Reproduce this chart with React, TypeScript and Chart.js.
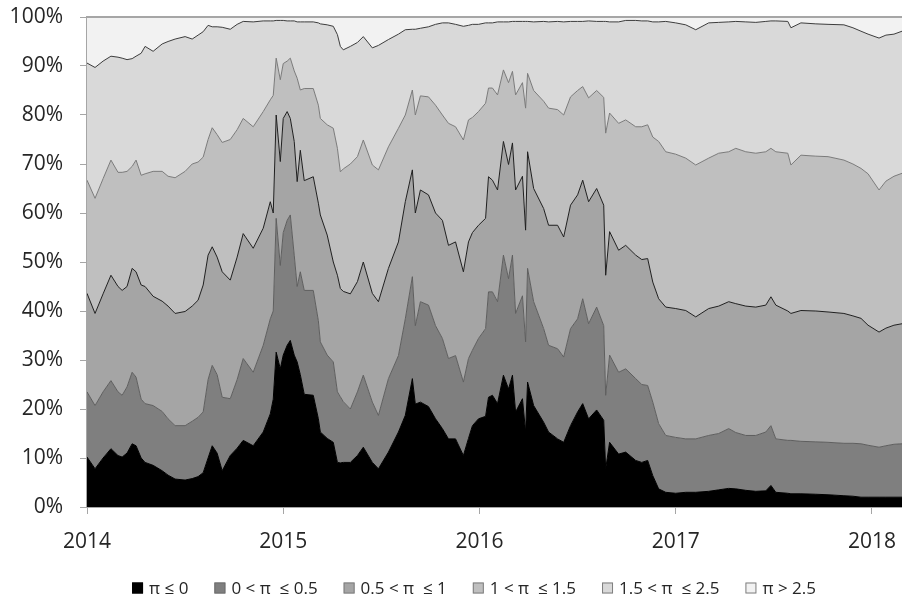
import { useEffect, useRef } from 'react';
import { Chart, registerables } from 'chart.js';

Chart.register(...registerables);

// decimal years
const dates = [
  2014.000, 2014.041, 2014.082, 2014.122, 2014.158, 2014.179, 2014.204, 2014.230, 2014.250, 2014.276,
  2014.296, 2014.337, 2014.383, 2014.413, 2014.449, 2014.500, 2014.536, 2014.566, 2014.592, 2014.617,
  2014.638, 2014.663, 2014.689, 2014.730, 2014.765, 2014.796, 2014.847, 2014.898, 2014.934, 2014.949,
  2014.964, 2014.985, 2015.000, 2015.020, 2015.036, 2015.056, 2015.071, 2015.087, 2015.107, 2015.153,
  2015.179, 2015.189, 2015.224, 2015.255, 2015.276, 2015.291, 2015.306, 2015.342, 2015.378, 2015.408,
  2015.454, 2015.485, 2015.536, 2015.587, 2015.622, 2015.658, 2015.673, 2015.699, 2015.740, 2015.776,
  2015.811, 2015.842, 2015.878, 2015.918, 2015.944, 2015.964, 2015.995, 2016.031, 2016.046, 2016.066,
  2016.092, 2016.122, 2016.148, 2016.168, 2016.184, 2016.219, 2016.235, 2016.245, 2016.276, 2016.327,
  2016.352, 2016.398, 2016.429, 2016.464, 2016.500, 2016.526, 2016.556, 2016.597, 2016.633, 2016.643,
  2016.663, 2016.709, 2016.745, 2016.796, 2016.827, 2016.857, 2016.883, 2016.913, 2016.949, 2017.000,
  2017.051, 2017.102, 2017.168, 2017.219, 2017.270, 2017.306, 2017.357, 2017.408, 2017.459, 2017.485,
  2017.510, 2017.571, 2017.587, 2017.638, 2017.714, 2017.776, 2017.857, 2017.903, 2017.944, 2017.980,
  2018.036, 2018.071, 2018.112, 2018.153,
];

const seriesLabels = ['π ≤ 0', '0 < π  ≤ 0.5', '0.5 < π  ≤ 1', '1 < π  ≤ 1.5', '1.5 < π  ≤ 2.5', 'π > 2.5'];

const shareLe0 = [
  10.2, 7.8, 10, 11.9, 10.5, 10.2, 11, 12.9, 12.5, 10,
  9.1, 8.5, 7.4, 6.5, 5.7, 5.5, 5.8, 6.2, 7, 10,
  12.5, 11, 7.4, 10.5, 12, 13.6, 12.5, 15.3, 19, 22,
  31.6, 28.2, 31, 33, 34, 31, 29.6, 27, 23, 22.8,
  18, 15.3, 14, 13.2, 9.1, 9, 9.1, 9.1, 10.5, 12.2,
  9.1, 7.8, 11.2, 15.3, 18.7, 26.2, 21, 21.4, 20.5, 18,
  16, 13.9, 13.9, 10.5, 14, 16.6, 18, 18.5, 22.4, 22.8,
  21.1, 26.9, 24.1, 26.9, 19.4, 22.1, 15.3, 25.5, 20.7, 17.3,
  15.3, 13.9, 13.2, 16.6, 19.4, 21.1, 18, 19.8, 17.7, 7.8,
  13.2, 10.8, 11.2, 9.5, 9.1, 9.5, 6.4, 3.7, 3, 2.8,
  3, 3, 3.2, 3.5, 3.8, 3.7, 3.4, 3.2, 3.3, 4.4,
  3, 2.8, 2.7, 2.7, 2.6, 2.5, 2.3, 2.2, 2, 2,
  2, 2, 2, 2,
];

const share0to05 = [
  13.3, 12.9, 13.5, 13.9, 13, 12.6, 13.5, 14.6, 14, 12,
  12, 12.2, 12.1, 11.5, 10.9, 11.1, 11.7, 12.1, 12.4, 16,
  16.4, 16, 15, 11.6, 14, 16.7, 15, 17.7, 19.4, 18,
  27.3, 21.1, 25, 25.5, 25.6, 20.4, 15.4, 21, 21.2, 21.4,
  20, 18.4, 17, 16.4, 14.4, 13.5, 12.4, 10.9, 13, 14.7,
  12.3, 10.9, 15, 15.6, 19.7, 20.8, 16, 20.5, 20.7, 19,
  18.4, 16.4, 17, 15, 16.3, 15.4, 16.4, 17.9, 21.5, 21.1,
  20.8, 24.5, 22.5, 24.5, 20.1, 21, 18.4, 23.2, 21.2, 19.1,
  17.7, 18.4, 17.4, 19.8, 19, 21.4, 19.4, 21, 19.3, 15,
  17.8, 16.7, 17, 16.7, 15.9, 15.3, 15, 13.3, 11.6, 11.4,
  10.9, 10.9, 11.4, 11.5, 12.2, 11.5, 11.2, 11.4, 12, 12.2,
  10.9, 10.8, 10.9, 10.7, 10.7, 10.7, 10.7, 10.8, 10.9, 10.6,
  10.2, 10.5, 10.8, 10.9,
];

const share05to1 = [
  20.1, 18.8, 20, 21.5, 21.5, 21.4, 20.5, 21.2, 21.5, 23.3,
  23.9, 22.3, 22.5, 23, 22.9, 23.3, 23.5, 23.9, 25.9, 25.4,
  24.2, 24, 25.6, 24.2, 25, 25.5, 25.3, 23.9, 23.9, 20,
  21.1, 21.2, 23.3, 22.2, 19.7, 23.2, 21.4, 24.8, 22.4, 23.2,
  24, 25.9, 24.5, 20.4, 23.8, 22.1, 22.5, 23.5, 22.5, 23.1,
  22.2, 23.2, 22.5, 23.2, 23.9, 21.8, 23, 22.8, 22.5, 23,
  24.1, 23.1, 23.2, 22.5, 23.8, 24, 23.1, 22.5, 23.5, 22.8,
  22.8, 23.2, 23.3, 22.9, 25.2, 24.4, 22.8, 23.8, 23.1, 24.5,
  24.5, 25.2, 24.5, 25.2, 25.3, 24.2, 24.9, 24.2, 24.6, 24.5,
  25.2, 24.9, 25.2, 25.2, 25.5, 25.9, 24.5, 25.5, 26.2, 26.3,
  26.2, 24.9, 25.9, 26, 25.9, 26.3, 26.4, 26.2, 25.9, 26.3,
  27.3, 26.4, 25.9, 26.7, 26.7, 26.6, 26.5, 26, 25.6, 24.5,
  23.5, 24, 24.3, 24.5,
];

const share1to15 = [
  23.1, 23.5, 23.5, 23.5, 23.3, 24.1, 23.5, 20.8, 22.8, 22.4,
  23, 25.5, 26.5, 26.5, 27.7, 28.6, 29, 28.2, 26.1, 23.6,
  24.3, 25, 26.4, 28.7, 26, 23.5, 24.8, 23.8, 20.8, 24,
  11.6, 16.7, 11.2, 10.3, 12.3, 14.4, 21.1, 12.3, 18.8, 18,
  20, 19.7, 22.5, 27.3, 25.9, 23.8, 25, 26.5, 25.5, 24.9,
  26.2, 26.9, 24.8, 23.2, 17.7, 16.3, 20, 19.2, 20, 22,
  21.5, 24.9, 23.5, 26.9, 24.9, 23.5, 23.2, 23.5, 18.1, 18.8,
  19.4, 14.6, 16.7, 14.6, 19.4, 19.1, 24.9, 16, 20, 21.9,
  23.9, 23.6, 24.9, 22.1, 21.3, 19.1, 21.2, 20, 22, 29,
  24.2, 25.9, 25.6, 26.2, 27.1, 27.3, 29.6, 32.1, 31.7, 31.5,
  31.1, 31, 30.7, 31.2, 30.6, 31.7, 31.5, 31.4, 31.3, 30.3,
  31.3, 32.2, 30.3, 31.7, 31.6, 31.7, 31.3, 31, 30.6, 30.9,
  29, 30, 30.4, 30.7,
];

const share15to25 = [
  23.9, 26.7, 24, 21.2, 23.5, 23.3, 22.8, 22, 21.2, 24.9,
  26, 24.5, 26, 27.5, 28.3, 27.5, 25.5, 25.9, 25.6, 23.3,
  20.6, 22, 23.5, 22.5, 21.5, 19.8, 21.4, 18.5, 16.1, 15.2,
  7.7, 12.1, 8.8, 8.2, 7.6, 10.2, 11.5, 13.9, 13.6, 13.6,
  16.8, 19.3, 20.4, 20.8, 23.2, 25.6, 24.3, 24, 23.3, 21.1,
  23.9, 25.4, 21.9, 19.2, 17.4, 12.4, 17.5, 13.8, 14.3, 16.5,
  18.8, 20.5, 20.9, 23.2, 19.3, 19, 17.8, 16.4, 13.3, 13.3,
  14.9, 9.8, 12.4, 10.2, 15, 12.5, 17.7, 10.6, 14, 16.3,
  17.6, 18, 19, 15.4, 14.1, 13.3, 15.7, 14.1, 15.5, 22.8,
  18.6, 20.7, 20.3, 21.7, 21.6, 21.2, 23.5, 24.4, 26.6, 26.8,
  27.2, 27.6, 27.6, 26.7, 26.5, 25.9, 26.5, 26.7, 26.6, 26,
  26.7, 26.9, 28, 27, 27, 27, 27.6, 27.8, 28, 28.5,
  31, 29.8, 29, 29,
];

const shareGt25 = [
  9.4, 10.3, 9, 8, 8.2, 8.4, 8.7, 8.5, 8, 7.4,
  6, 7, 5.5, 5, 4.5, 4, 4.5, 3.7, 3, 1.7,
  2, 2, 2.1, 2.5, 1.5, 0.9, 1, 0.8, 0.8, 0.8,
  0.7, 0.7, 0.7, 0.8, 0.8, 0.8, 1, 1, 1, 1,
  1.2, 1.4, 1.6, 1.9, 3.6, 6, 6.7, 6, 5.2, 4,
  6.3, 5.8, 4.6, 3.5, 2.6, 2.5, 2.5, 2.3, 2, 1.5,
  1.2, 1.2, 1.5, 1.9, 1.7, 1.5, 1.5, 1.2, 1.2, 1.2,
  1, 1, 1, 0.9, 0.9, 0.9, 0.9, 0.9, 1, 0.9,
  1, 0.9, 1, 0.9, 0.9, 0.9, 0.8, 0.9, 0.9, 0.9,
  1, 1, 0.7, 0.7, 0.8, 0.8, 1, 1, 0.9, 1.2,
  1.6, 2.6, 1.2, 1.1, 1, 0.9, 1, 1.1, 0.9, 0.8,
  0.8, 0.9, 2.2, 1.2, 1.4, 1.5, 1.6, 2.2, 2.9, 3.5,
  4.3, 3.7, 3.5, 2.9,
];

const xTicks = [2014, 2015, 2016, 2017, 2018];
const yTicks = [0, 10, 20, 30, 40, 50, 60, 70, 80, 90, 100];

const FONT = "'Open Sans', 'DejaVu Sans', sans-serif";
const fillColors = ['#000000', '#7f7f7f', '#a5a5a5', '#bfbfbf', '#d9d9d9', '#f2f2f2'];
const lineColors = ['#000000', '#5e5e5e', '#1e1e1e', '#7a7a7a', '#3c3c3c', '#a6a6a6'];
const boxBorders = ['#000000', '#6e6e6e', '#7f7f7f', '#7f7f7f', '#7f7f7f', '#7f7f7f'];

const frameAndLegend = {
  id: 'frameAndLegend',
  afterDraw(chart: any) {
    const { ctx, chartArea } = chart;
    ctx.save();
    // top frame line
    ctx.strokeStyle = '#a6a6a6';
    ctx.lineWidth = 2;
    ctx.beginPath();
    ctx.moveTo(chartArea.left, chartArea.top);
    ctx.lineTo(chartArea.right, chartArea.top);
    ctx.stroke();

    // legend
    const fontSize = 17;
    ctx.font = `${fontSize}px ${FONT}`;
    const box = 11;
    const gapBoxText = 6;
    const gapItems = 26;
    const widths = seriesLabels.map((l) => ctx.measureText(l).width);
    const total = widths.reduce((a, w) => a + box + gapBoxText + w, 0) + gapItems * (seriesLabels.length - 1);
    const centerX = 474;
    const cy = 588;
    let x = centerX - total / 2;
    ctx.textBaseline = 'middle';
    ctx.textAlign = 'left';
    seriesLabels.forEach((l, k) => {
      ctx.fillStyle = fillColors[k];
      ctx.fillRect(x, cy - box / 2, box, box);
      ctx.strokeStyle = boxBorders[k];
      ctx.lineWidth = 1;
      ctx.strokeRect(x + 0.5, cy - box / 2 + 0.5, box - 1, box - 1);
      ctx.fillStyle = '#262626';
      ctx.fillText(l, x + box + gapBoxText, cy + 1);
      x += box + gapBoxText + widths[k] + gapItems;
    });
    ctx.restore();
  },
};

export default function App() {
  const ref = useRef<HTMLCanvasElement>(null);
  useEffect(() => {
    document.body.style.margin = '0';
    const series = [shareLe0, share0to05, share05to1, share1to15, share15to25, shareGt25];
    const chart = new Chart(ref.current as HTMLCanvasElement, {
      type: 'line',
      data: {
        datasets: series.map((s, k) => ({
          label: seriesLabels[k],
          data: dates.map((d, i) => ({ x: d, y: s[i] })),
          backgroundColor: fillColors[k],
          borderColor: lineColors[k],
          borderWidth: 1,
          pointRadius: 0,
          pointHoverRadius: 0,
          tension: 0,
          fill: k === 0 ? 'origin' : '-1',
        })),
      },
      options: {
        animation: false,
        responsive: false,
        events: [],
        layout: { padding: { top: 17, bottom: 43, left: 0, right: 0 } },
        plugins: {
          legend: { display: false },
          tooltip: { enabled: false },
        },
        scales: {
          x: {
            type: 'linear',
            min: 2014,
            max: 2018.153,
            z: 1,
            afterBuildTicks: (scale: any) => {
              scale.ticks = xTicks.map((v) => ({ value: v }));
            },
            afterFit: (scale: any) => {
              scale.height = 50;
              scale.paddingLeft = 0;
              scale.paddingRight = 0;
            },
            ticks: {
              padding: 15,
              color: '#262626',
              font: { family: FONT, size: 21 },
              maxRotation: 0,
              autoSkip: false,
              callback: (v: any) => String(v),
            },
            grid: { drawOnChartArea: false, drawTicks: true, tickLength: 7, color: '#a6a6a6' },
            border: { display: true, color: '#a6a6a6', width: 1 },
          },
          y: {
            stacked: true,
            min: 0,
            max: 100,
            z: 1,
            afterBuildTicks: (scale: any) => {
              scale.ticks = yTicks.map((v) => ({ value: v }));
            },
            afterFit: (scale: any) => {
              scale.width = 87;
              scale.paddingTop = 0;
              scale.paddingBottom = 0;
            },
            ticks: {
              padding: 17,
              color: '#262626',
              font: { family: FONT, size: 21 },
              callback: (v: any) => v + '%',
            },
            grid: { drawOnChartArea: false, drawTicks: true, tickLength: 7, color: '#a6a6a6' },
            border: { display: true, color: '#a6a6a6', width: 2 },
          },
        },
      } as any,
      plugins: [frameAndLegend],
    });
    return () => chart.destroy();
  }, []);
  return (
    <div style={{ position: 'absolute', left: 0, top: 0, width: 902, height: 600 }}>
      <canvas ref={ref} width={902} height={600} style={{ display: 'block', width: 902, height: 600 }} />
    </div>
  );
}
